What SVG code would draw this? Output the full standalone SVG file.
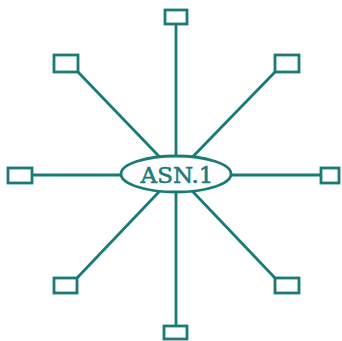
<svg xmlns="http://www.w3.org/2000/svg" width="342" height="341" viewBox="0 0 342 341">
<style>
.c{stroke:#1a7b76;stroke-width:2.8;fill:none}
.b{stroke:#1a7b76;stroke-width:2.8;fill:#fff}
.t{font-family:"DejaVu Serif","Liberation Serif",serif;font-size:23px;fill:#1f7c77;stroke:#1f7c77;stroke-width:0.6;text-anchor:middle}
</style>
<rect width="342" height="341" fill="#fff"/>
<g id="connectors">
<line class="c" x1="176" y1="24" x2="176" y2="174"/>
<line class="c" x1="176" y1="174" x2="176" y2="326"/>
<line class="c" x1="32" y1="175" x2="321" y2="175"/>
<line class="c" x1="78" y1="72" x2="176" y2="174"/>
<line class="c" x1="275" y1="72" x2="176" y2="174"/>
<line class="c" x1="77" y1="278" x2="176" y2="174"/>
<line class="c" x1="275" y1="278" x2="176" y2="174"/>
</g>
<g id="top"><rect class="b" x="165" y="10" width="22" height="14"/></g>
<g id="topleft"><rect class="b" x="54" y="55" width="24" height="17"/></g>
<g id="topright"><rect class="b" x="275" y="55" width="24" height="17"/></g>
<g id="left"><rect class="b" x="8" y="168" width="24" height="15"/></g>
<g id="right"><rect class="b" x="321" y="168" width="18" height="15"/></g>
<g id="bottomleft"><rect class="b" x="54" y="278" width="23" height="15"/></g>
<g id="bottomright"><rect class="b" x="275" y="278" width="24" height="15"/></g>
<g id="bottom"><rect class="b" x="164" y="326" width="23" height="13"/></g>
<g id="center">
<ellipse class="b" cx="176" cy="174" rx="55" ry="18"/>
<text class="t" x="177" y="183">ASN.1</text>
</g>
</svg>
